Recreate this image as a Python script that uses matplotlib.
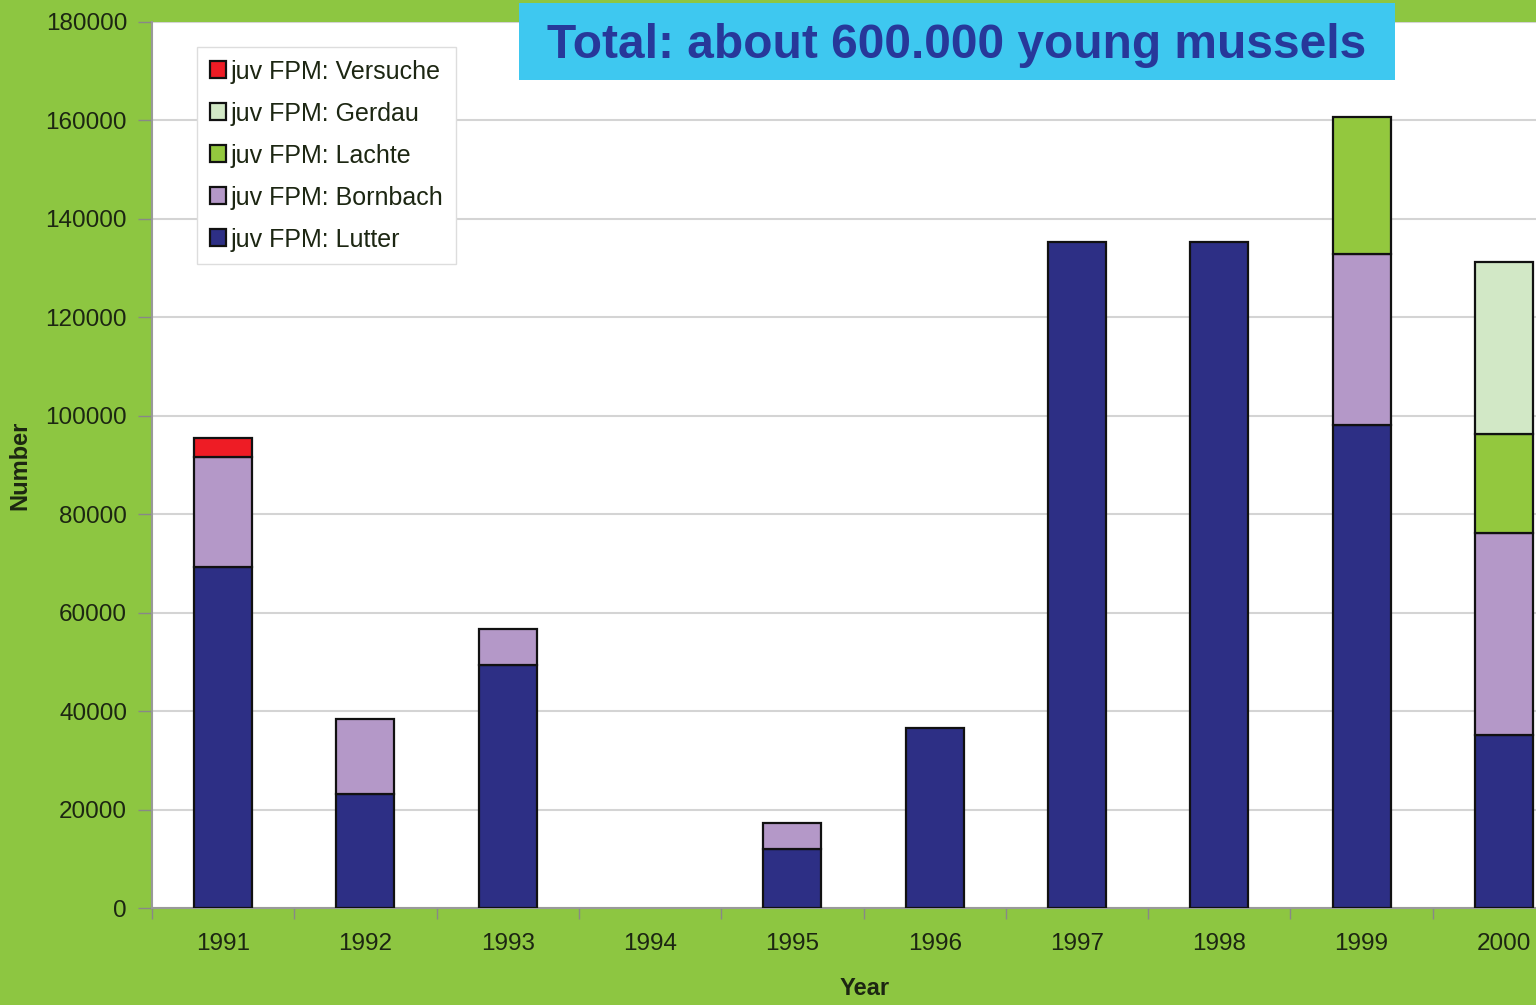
import numpy as np
import matplotlib.pyplot as plt
from matplotlib.patches import Rectangle

plt.rcParams['font.family'] = ['Liberation Sans', 'DejaVu Sans']

years = ['1991', '1992', '1993', '1994', '1995', '1996', '1997', '1998', '1999', '2000']
lutter = [69300, 23200, 49400, 0, 12000, 36600, 135300, 135300, 98100, 35200]
bornbach = [22300, 15200, 7300, 0, 5300, 0, 0, 0, 34700, 41000]
lachte = [0, 0, 0, 0, 0, 0, 0, 0, 28000, 20100]
gerdau = [0, 0, 0, 0, 0, 0, 0, 0, 0, 34900]
versuche = [3900, 0, 0, 0, 0, 0, 0, 0, 0, 0]

series = [
    ('juv FPM: Lutter', lutter, '#2d2f85'),
    ('juv FPM: Bornbach', bornbach, '#b498c8'),
    ('juv FPM: Lachte', lachte, '#93c83e'),
    ('juv FPM: Gerdau', gerdau, '#d2e8c6'),
    ('juv FPM: Versuche', versuche, '#ee1c25'),
]

bg = '#8dc641'
txt = '#1c2612'

fig = plt.figure(figsize=(15.36, 10.05), dpi=100, facecolor=bg)
W, H = 1536, 1005
left, right, top, bottom = 152, 1536, 22, 908
ax = fig.add_axes([left / W, 1 - bottom / H, (right - left) / W, (bottom - top) / H])
ax.set_facecolor('white')

x = np.arange(len(years))
step = 142.3
bw = 58 / step
base = np.zeros(len(years))
handles = {}
for name, vals, col in series:
    v = np.array(vals, dtype=float)
    mask = v > 0
    b = ax.bar(x[mask], v[mask], bw, bottom=base[mask], color=col,
               edgecolor='#111111', linewidth=1.6, zorder=3, label=name)
    handles[name] = b
    base += v

ax.set_yticks(np.arange(0, 180001, 20000))
ax.set_yticklabels([str(v) for v in range(0, 180001, 20000)], fontsize=17.5, color=txt)
ax.set_xticks(x)
ax.set_xticklabels(years, fontsize=17.5, color=txt)
ax.set_xticks(np.arange(-0.5, 10, 1), minor=True)
ax.set_xlim(-0.5, -0.5 + (right - left) / step)
ax.set_ylim(0, 180000)
ax.tick_params(axis='x', which='major', length=0, pad=18)
ax.tick_params(axis='x', which='minor', length=8, color='#888888', width=1)
ax.tick_params(axis='y', length=10, color='#888888', width=1, pad=8)
ax.yaxis.grid(True, color='#d4d4d4', linewidth=1.5, zorder=0)
ax.set_axisbelow(True)
for s in ['top', 'right']:
    ax.spines[s].set_visible(False)
for s in ['left', 'bottom']:
    ax.spines[s].set_color('#999999')
    ax.spines[s].set_linewidth(1.5)

fig.text(20 / W, 1 - 465 / H, 'Number', fontsize=17, fontweight='bold', color=txt,
         rotation=90, ha='center', va='center')
fig.text(865 / W, 1 - 988 / H, 'Year', fontsize=17, fontweight='bold', color=txt,
         ha='center', va='center')

order = ['juv FPM: Versuche', 'juv FPM: Gerdau', 'juv FPM: Lachte',
         'juv FPM: Bornbach', 'juv FPM: Lutter']
leg = ax.legend([handles[n] for n in order], order, loc='upper left',
                bbox_to_anchor=(45 / (right - left), 1 - 25 / (bottom - top)),
                fontsize=18, frameon=True, fancybox=False, framealpha=1,
                edgecolor='#dddddd', handlelength=0.65, handleheight=0.65,
                handletextpad=0.2, labelspacing=0.72, borderpad=0.5,
                borderaxespad=0)
for t in leg.get_texts():
    t.set_color(txt)
leg.set_zorder(5)

fig.patches.append(Rectangle((519 / W, 1 - 80 / H), 876 / W, 77 / H,
                             transform=fig.transFigure, facecolor='#3ec8f0',
                             edgecolor='none', zorder=1))
fig.text(957 / W, 1 - 45 / H, 'Total: about 600.000 young mussels', fontsize=34.5,
         fontweight='bold', color='#27389a', ha='center', va='center', zorder=2)

fig.savefig('out.png', dpi=100, facecolor=bg)
